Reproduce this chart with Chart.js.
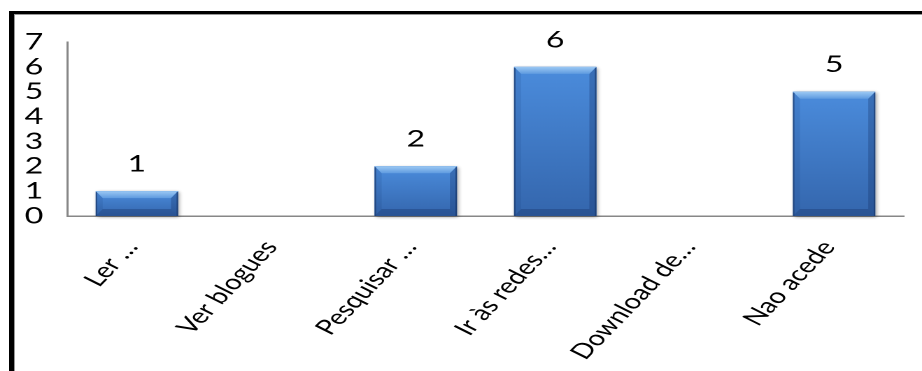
<!DOCTYPE html>
<html>
<head>
<meta charset="utf-8">
<script src="https://cdn.jsdelivr.net/npm/chart.js@4/dist/chart.umd.min.js"></script>
<style>
  html, body { margin: 0; padding: 0; background: #fff; }
  body { width: 922px; height: 371px; position: relative; overflow: hidden; }
  #frame {
    position: absolute; left: 9px; top: 11px; width: 913px; height: 360px;
    border-top: 3px solid #000; border-left: 5px solid #000;
    box-shadow: inset 1px 1px 0 #999;
  }
  /* the source picture is stretched sideways, so the chart is drawn narrow and scaled */
  #wrap {
    position: absolute; left: 0; top: 0; width: 659px; height: 371px;
    transform: scaleX(1.3991); transform-origin: 0 0;
  }
</style>
</head>
<body>
<div id="frame"></div>
<div id="wrap"><canvas id="chart"></canvas></div>
<script>
const categories = ['Ler …', 'Ver blogues', 'Pesquisar …', 'Ir às redes…', 'Download de…', 'Nao acede'];
const counts = [1, 0, 2, 6, 0, 5];
const yMax = 7;

const FONT = 'Lato, Calibri, Carlito, sans-serif';

function faceGradient(c) {
    const chart = c.chart;
    const ys = chart.scales.y;
    if (!ys || c.raw === undefined) return '#3f7ccc';
    const top = ys.getPixelForValue(c.raw);
    const base = ys.getPixelForValue(0);
    if (!isFinite(top) || top === base) return '#3f7ccc';
    const g = chart.ctx.createLinearGradient(0, top, 0, base);
    g.addColorStop(0, '#4b8cdc');
    g.addColorStop(1, '#3466ad');
    return g;
}

const bevelBars = {
    id: 'bevelBars',
    beforeDatasetsDraw(chart) {
        const ctx = chart.ctx;
        chart.getDatasetMeta(0).data.forEach((bar, i) => {
            if (!counts[i]) return;
            const { x, y, base, width } = bar.getProps(['x', 'y', 'base', 'width'], true);
            ctx.save();
            ctx.shadowColor = 'rgba(0,0,0,0.4)';
            ctx.shadowBlur = 6;
            ctx.shadowOffsetX = 2;
            ctx.shadowOffsetY = 2;
            ctx.fillStyle = '#3a6fb5';
            ctx.fillRect(x - width / 2, y, width, base - y);
            ctx.restore();
        });
    },
    afterDatasetsDraw(chart) {
        const ctx = chart.ctx;
        chart.getDatasetMeta(0).data.forEach((bar, i) => {
            if (!counts[i]) return;
            const { x, y, base, width } = bar.getProps(['x', 'y', 'base', 'width'], true);
            const L = x - width / 2, R = x + width / 2, T = y, B = base;
            const b = Math.min(7, (B - T) / 2);
            const bx = b / 1.4;
            ctx.save();
            // top bevel
            const g = ctx.createLinearGradient(0, T, 0, T + b);
            g.addColorStop(0, '#9cc9f4');
            g.addColorStop(1, '#5f9be0');
            ctx.fillStyle = g;
            ctx.beginPath();
            ctx.moveTo(L, T); ctx.lineTo(R, T); ctx.lineTo(R - bx, T + b); ctx.lineTo(L + bx, T + b);
            ctx.closePath(); ctx.fill();
            // left bevel
            ctx.fillStyle = 'rgba(20,50,110,0.12)';
            ctx.beginPath();
            ctx.moveTo(L, T); ctx.lineTo(L + bx, T + b); ctx.lineTo(L + bx, B - b); ctx.lineTo(L, B);
            ctx.closePath(); ctx.fill();
            // right bevel
            ctx.fillStyle = 'rgba(15,40,90,0.28)';
            ctx.beginPath();
            ctx.moveTo(R, T); ctx.lineTo(R - bx, T + b); ctx.lineTo(R - bx, B - b); ctx.lineTo(R, B);
            ctx.closePath(); ctx.fill();
            // bottom bevel
            ctx.fillStyle = 'rgba(15,40,90,0.3)';
            ctx.beginPath();
            ctx.moveTo(L, B); ctx.lineTo(L + bx, B - b); ctx.lineTo(R - bx, B - b); ctx.lineTo(R, B);
            ctx.closePath(); ctx.fill();
            // dark edges
            ctx.strokeStyle = 'rgba(25,55,105,0.7)';
            ctx.lineWidth = 1;
            ctx.beginPath();
            ctx.moveTo(L + 0.5, T + 1); ctx.lineTo(L + 0.5, B);
            ctx.moveTo(R - 0.5, T + 1); ctx.lineTo(R - 0.5, B);
            ctx.stroke();
            ctx.restore();
        });
    }
};

const valueLabels = {
    id: 'valueLabels',
    afterDatasetsDraw(chart) {
        const ctx = chart.ctx;
        ctx.save();
        ctx.font = '23px ' + FONT;
        ctx.fillStyle = '#000';
        ctx.textAlign = 'center';
        ctx.textBaseline = 'middle';
        chart.getDatasetMeta(0).data.forEach((bar, i) => {
            if (!counts[i]) return;
            ctx.fillText(String(counts[i]), bar.x, bar.y - 27);
        });
        ctx.restore();
    }
};

new Chart(document.getElementById('chart'), {
    type: 'bar',
    data: {
        labels: categories,
        datasets: [{
            data: counts,
            backgroundColor: faceGradient,
            borderWidth: 0,
            categoryPercentage: 1,
            barPercentage: 0.59
        }]
    },
    options: {
        responsive: true,
        maintainAspectRatio: false,
        animation: false,
        devicePixelRatio: 2,
        layout: { padding: { top: 42, right: 13, left: 0, bottom: 0 } },
        plugins: { legend: { display: false }, tooltip: { enabled: false } },
        scales: {
            x: {
                grid: { display: false, drawTicks: false },
                border: { display: true, color: '#878787', width: 1.5 },
                ticks: {
                    color: '#000', font: { family: FONT, size: 21 },
                    autoSkip: false, maxRotation: 55, minRotation: 55,
                    padding: 20, labelOffset: -4
                },
                afterFit(scale) { scale.height = 155; }
            },
            y: {
                min: 0, max: yMax,
                grid: { display: false, drawTicks: false },
                border: { display: true, color: '#878787', width: 1.5 },
                ticks: {
                    stepSize: 1, autoSkip: false, color: '#000',
                    font: { family: FONT, size: 23 }, padding: 17
                },
                afterFit(scale) { scale.width = 48; }
            }
        }
    },
    plugins: [bevelBars, valueLabels]
});
</script>
</body>
</html>
